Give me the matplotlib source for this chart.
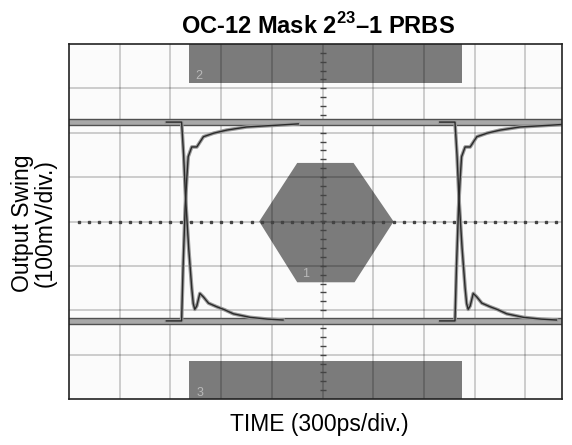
import numpy as np
import matplotlib
matplotlib.use("Agg")
import matplotlib.pyplot as plt
from matplotlib.patches import Polygon, Rectangle

plt.rcParams['font.family'] = ['Liberation Sans', 'DejaVu Sans']
plt.rcParams['mathtext.fontset'] = 'custom'
plt.rcParams['mathtext.rm'] = 'Liberation Sans'
plt.rcParams['mathtext.bf'] = 'Liberation Sans:bold'

# ---- data (in divisions) ----
title = r"OC-12 Mask 2$^{\mathbf{23}}$–1 PRBS"
xlabel = "TIME (300ps/div.)"
ylabel = "Output Swing\n(100mV/div.)"
x_divs = 9.72
y_divs = 8

# mask regions
mask_top_x = [2.37, 7.75]
mask_top_y = [3.13, 4.0]
mask_bot_x = [2.37, 7.75]
mask_bot_y = [-4.0, -3.15]
hex_x = [3.75, 4.50, 5.61, 6.40, 5.63, 4.50]
hex_y = [0.0, 1.32, 1.32, 0.0, -1.37, -1.37]
mask_labels = ["2", "3", "1"]
mask_label_x = [2.50, 2.52, 4.60]
mask_label_y = [3.22, -3.93, -1.25]

# logic levels (band edges)
top_hi, top_lo = 2.30, 2.17
bot_hi, bot_lo = -2.17, -2.32

# crossing positions of transitions
crossings = [2.22, 7.61]

# falling edge shape relative to crossing
fall_dx = [-0.3, 0.0, 0.04, 0.08, 0.14, 0.20, 0.23, 0.26, 0.30, 0.36, 0.43, 0.53, 0.69, 0.85, 1.02, 1.35, 1.70, 2.00]
fall_y = [2.24, 2.24, 1.50, 0.50, -0.60, -1.50, -1.85, -1.98, -1.90, -1.62, -1.70, -1.84, -1.92, -1.99, -2.08, -2.16, -2.20, -2.22]

# rising edge shape relative to crossing
rise_dx = [-0.3, 0.0, 0.03, 0.07, 0.10, 0.13, 0.20, 0.30, 0.43, 0.63, 0.89, 1.28, 1.88, 2.30]
rise_y = [-2.24, -2.24, -1.00, 0.30, 0.93, 1.46, 1.68, 1.68, 1.91, 1.99, 2.06, 2.13, 2.17, 2.20]

# ---- figure ----
fig = plt.figure(figsize=(5.72, 4.45), dpi=100)
ax = fig.add_axes([69/572, 46/445, 493/572, 355/445])
ax.set_xlim(0, x_divs)
ax.set_ylim(-y_divs/2, y_divs/2)
ax.set_facecolor('#fbfbfb')

mask_col = '#7b7b7b'
ax.add_patch(Rectangle((mask_top_x[0], mask_top_y[0]), mask_top_x[1]-mask_top_x[0],
                       mask_top_y[1]-mask_top_y[0], color=mask_col, lw=0, zorder=1))
ax.add_patch(Rectangle((mask_bot_x[0], mask_bot_y[0]), mask_bot_x[1]-mask_bot_x[0],
                       mask_bot_y[1]-mask_bot_y[0], color=mask_col, lw=0, zorder=1))
ax.add_patch(Polygon(list(zip(hex_x, hex_y)), closed=True, color=mask_col, lw=0, zorder=1))
for t, lx, ly in zip(mask_labels, mask_label_x, mask_label_y):
    ax.text(lx, ly, t, color='#b8b8b8', fontsize=9, zorder=2)

# grid
for gx in range(1, 10):
    ax.axvline(gx, color='black', alpha=0.2, lw=1.3, zorder=2)
for gy in range(-3, 4):
    ax.axhline(gy, color='black', alpha=0.2, lw=1.3, zorder=2)

# center axis ticks
tx = np.arange(0.2, x_divs, 0.2)
ax.plot(tx, np.zeros_like(tx), ls='none', marker='s', ms=1.8, color='#444444', zorder=3)
ty = np.arange(-3.8, 4.0, 0.2)
ax.plot(np.full_like(ty, 5.0), ty, ls='none', marker='_', ms=5, mew=1.0, color='#444444', zorder=3)

# level bands
ax.fill_between([0, x_divs], top_lo, top_hi, color='#a8a8a8', lw=0, zorder=4)
ax.fill_between([0, x_divs], bot_lo, bot_hi, color='#a8a8a8', lw=0, zorder=4)
for yv in (top_hi, top_lo, bot_hi, bot_lo):
    ax.axhline(yv, color='#505050', lw=1.0, zorder=5)

# transitions
for c in crossings:
    fx = [c + d for d in fall_dx]
    rx = [c + d for d in rise_dx]
    for xs, ys in ((fx, fall_y), (rx, rise_y)):
        ax.plot(xs, ys, color='#9a9a9a', lw=2.6, zorder=5, solid_joinstyle='round')
        ax.plot(xs, ys, color='#2a2a2a', lw=1.0, zorder=6, solid_joinstyle='round')

ax.set_xticks([])
ax.set_yticks([])
for s in ax.spines.values():
    s.set_color('#222222')
    s.set_linewidth(1.2)
    s.set_zorder(10)

fig.text(317.5/572, 1 - 25.5/445, title, ha='center', va='center', fontsize=17, fontweight='bold')
fig.text(319.5/572, 1 - 424.5/445, xlabel, ha='center', va='center', fontsize=16.5)
fig.text(34/572, 221.5/445, ylabel, ha='center', va='center', rotation=90,
         fontsize=16.5, linespacing=1.0)

fig.savefig('out.png', dpi=100)
